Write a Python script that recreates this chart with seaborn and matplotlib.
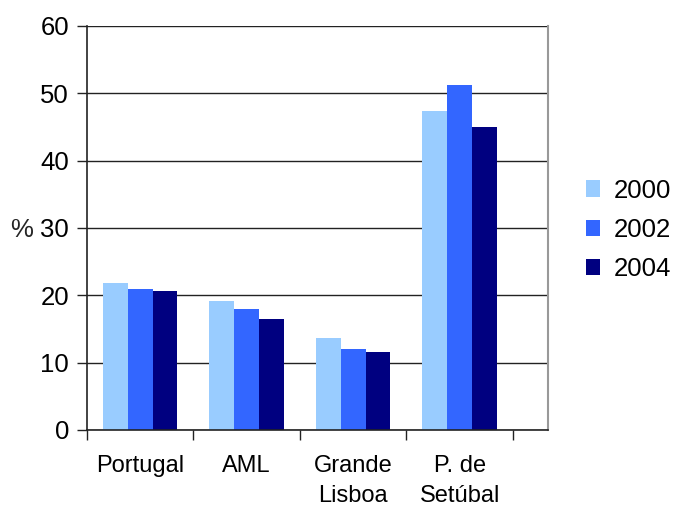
import pandas as pd
import matplotlib
matplotlib.use("Agg")
import matplotlib.pyplot as plt
import seaborn as sns

# Values (%)
regions = ["Portugal", "AML", "Grande\nLisboa", "P. de\nSetúbal"]
years = ["2000", "2002", "2004"]
v2000 = [21.8, 19.1, 13.7, 47.4]
v2002 = [20.9, 17.9, 12.0, 51.2]
v2004 = [20.6, 16.5, 11.6, 45.0]
colors = ["#99CCFF", "#3366FF", "#000080"]

df = pd.DataFrame({"Região": regions * 3,
                   "Ano": [y for y in years for _ in regions],
                   "Valor": v2000 + v2002 + v2004})

sns.set_style("white")
plt.rcParams["font.family"] = ["Liberation Sans", "DejaVu Sans"]
plt.rcParams["text.color"] = "black"
plt.rcParams["xtick.color"] = "black"
plt.rcParams["ytick.color"] = "black"

fig = plt.figure(figsize=(6.74, 5.07), dpi=100)
ax = fig.add_axes([0.129, 0.152, 0.684, 0.797])

sns.barplot(data=df, x="Região", y="Valor", hue="Ano", order=regions,
            palette=colors, width=0.7, saturation=1, linewidth=0,
            ax=ax, legend=True)

ax.set_ylim(0, 60)
ax.set_yticks(range(0, 61, 10))
ax.set_xlim(-0.5, 3.83)
ax.yaxis.grid(True, color="#222222", linewidth=1)
ax.set_axisbelow(True)

for s in ["left", "bottom"]:
    ax.spines[s].set_color("#222222")
    ax.spines[s].set_linewidth(1.2)
for s in ["top", "right"]:
    ax.spines[s].set_color("#999999")
    ax.spines[s].set_linewidth(1.5)
ax.spines["top"].set_visible(False)

ax.tick_params(axis="y", which="major", left=True, length=7, width=1,
               color="#222222", labelsize=18.5, pad=6)
ax.set_xticks([-0.5, 0.5, 1.5, 2.5, 3.5], minor=True)
ax.tick_params(axis="x", which="minor", bottom=True, length=7, width=1,
               color="#222222")
ax.tick_params(axis="x", which="major", length=0, labelsize=17, pad=18)
for lbl in ax.get_xticklabels():
    lbl.set_linespacing(1.5)

ax.set_xlabel("")
ax.set_ylabel("%", rotation=0, fontsize=18.5, va="center", ha="center")
ax.yaxis.set_label_coords(-0.141, 0.495)

ax.legend(title=None, loc="center left", bbox_to_anchor=(1.033, 0.495),
          frameon=False, fontsize=18.5, handlelength=0.55, handleheight=0.6,
          handletextpad=0.5, labelspacing=0.6)

fig.savefig("out.png", dpi=100)
